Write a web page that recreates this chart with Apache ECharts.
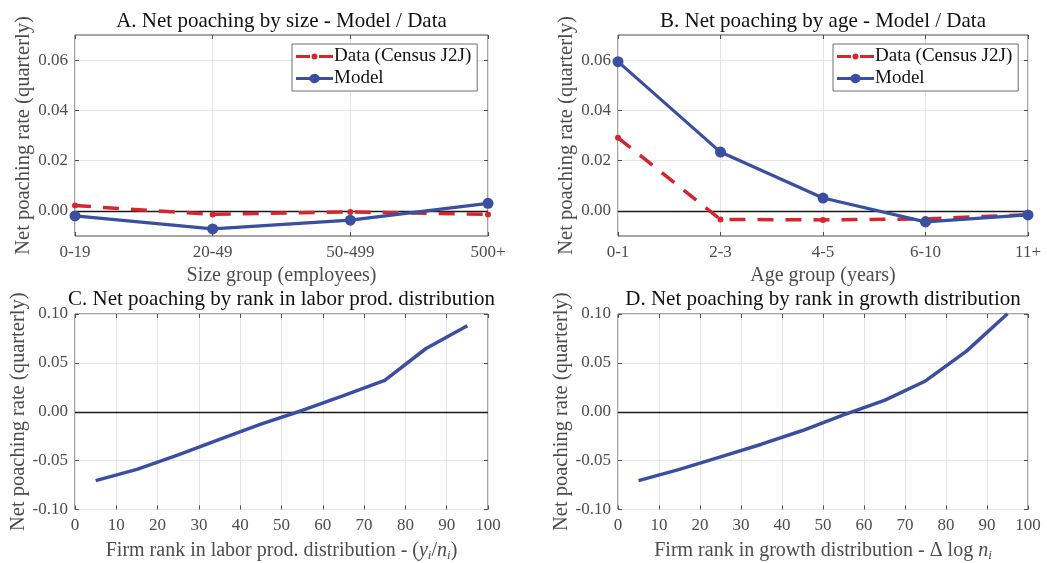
<!DOCTYPE html>
<html>
<head>
<meta charset="utf-8">
<script src="https://cdn.jsdelivr.net/npm/echarts@6/dist/echarts.min.js"></script>
<style>html,body{margin:0;padding:0;background:#fff;}#c{width:1047px;height:563px;}</style>
</head>
<body>
<div id="c"></div>
<script>
// ---- data ----
const sizeCats = ['0-19', '20-49', '50-499', '500+'];
const sizeJ2J = [0.0021, -0.0014, -0.0004, -0.0014];
const sizeModel = [-0.0020, -0.0072, -0.0037, 0.0030];

const ageCats = ['0-1', '2-3', '4-5', '6-10', '11+'];
const ageJ2J = [0.0291, -0.0034, -0.0036, -0.0032, -0.0015];
const ageModel = [0.0594, 0.0234, 0.0051, -0.0044, -0.0016];

const rankX = [5, 15, 25, 35, 45, 55, 65, 75, 85, 95];
const prodRank = [-0.0704, -0.0590, -0.0441, -0.0282, -0.0126, 0.0013, 0.0166, 0.0322, 0.0647, 0.0880];
const growthRank = [-0.0704, -0.0590, -0.0461, -0.0332, -0.0192, -0.0033, 0.0116, 0.0315, 0.0620, 0.1003];

const topYTicks = [0, 0.02, 0.04, 0.06];

const titles = [
  'A. Net poaching by size - Model / Data',
  'B. Net poaching by age - Model / Data',
  'C. Net poaching by rank in labor prod. distribution',
  'D. Net poaching by rank in growth distribution'
];
const yName = 'Net poaching rate (quarterly)';

// ---- styles ----
const FONT = '"Liberation Serif", "DejaVu Serif", serif';
const BLUE = '#3a4fa0';
const RED = '#d5262e';
const AX = '#4d4d4d';
const GRIDC = '#e4e4e4';

const grids = [
  {left: 75, top: 35, width: 413, height: 201},
  {left: 618, top: 35, width: 410, height: 201},
  {left: 75, top: 314, width: 413, height: 200},
  {left: 618, top: 314, width: 410, height: 200}
];

const rich = {
  it: {fontFamily: FONT, fontStyle: 'italic', fontSize: 20, color: AX},
  sub: {fontFamily: FONT, fontStyle: 'italic', fontSize: 13, color: AX, padding: [9, 0, 0, 0]}
};

function xAxisPair(gi, isCat, cats, name, gap) {
  const base = {
    gridIndex: gi,
    axisLine: {show: false, onZero: false},
    splitLine: {show: false},
    axisTick: {show: true, inside: true, length: 4, lineStyle: {color: AX}},
    axisLabel: {show: false}
  };
  let main, top;
  if (isCat) {
    main = Object.assign({}, base, {type: 'category', data: cats, boundaryGap: false});
    top = Object.assign({}, base, {type: 'category', data: cats, boundaryGap: false, position: 'top'});
  } else {
    main = Object.assign({}, base, {type: 'value', min: 0, max: 100, interval: 10});
    top = Object.assign({}, base, {type: 'value', min: 0, max: 100, interval: 10, position: 'top'});
  }
  main.position = 'bottom';
  main.splitLine = {show: true, lineStyle: {color: GRIDC, width: 1}};
  main.axisLabel = {show: true, margin: 8, color: AX, fontFamily: FONT, fontSize: 17};
  main.name = name;
  main.nameLocation = 'middle';
  main.nameGap = gap;
  main.nameTextStyle = {color: AX, fontFamily: FONT, fontSize: 20, rich: rich};
  return [main, top];
}

function yAxisPair(gi, isTop, gap) {
  const base = {
    gridIndex: gi,
    type: 'value',
    axisLine: {show: false, onZero: false},
    splitLine: {show: false},
    axisTick: {show: true, inside: true, length: 4, lineStyle: {color: AX}},
    axisLabel: {show: false}
  };
  let lim;
  if (isTop) {
    lim = {min: -0.01, max: 0.07};
    base.axisTick.customValues = topYTicks;
  } else {
    lim = {min: -0.1, max: 0.1, interval: 0.05};
  }
  const main = Object.assign({}, base, lim, {position: 'left'});
  main.axisTick = Object.assign({}, base.axisTick);
  main.splitLine = {show: true, lineStyle: {color: GRIDC, width: 1}};
  main.axisLabel = {show: true, margin: 7, color: AX, fontFamily: FONT, fontSize: 17,
    formatter: v => (Math.abs(v) < 1e-9 ? 0 : v).toFixed(2)};
  if (isTop) main.axisLabel.customValues = topYTicks;
  main.name = yName;
  main.nameLocation = 'middle';
  main.nameGap = gap;
  main.nameTextStyle = {color: AX, fontFamily: FONT, fontSize: 20.5};
  const right = Object.assign({}, base, lim, {position: 'right'});
  right.axisTick = Object.assign({}, base.axisTick);
  return [main, right];
}

const xAxes = [].concat(
  xAxisPair(0, true, sizeCats, 'Size group (employees)', 30),
  xAxisPair(1, true, ageCats, 'Age group (years)', 30),
  xAxisPair(2, false, null, 'Firm rank in labor prod. distribution - ({it|y}{sub|i}/{it|n}{sub|i})', 30.5),
  xAxisPair(3, false, null, 'Firm rank in growth distribution - \u0394 log {it|n}{sub|i}', 30.5)
);
const yAxes = [].concat(
  yAxisPair(0, true, 37),
  yAxisPair(1, true, 37),
  yAxisPair(2, false, 42),
  yAxisPair(3, false, 40)
);

function zeroLine() {
  return {silent: true, symbol: ['none', 'none'], z: 1, label: {show: false},
    lineStyle: {color: '#1a1a1a', width: 1.3, type: 'solid'}, data: [{yAxis: 0}]};
}

function dataSeries(gi, vals) {
  return {name: 'Data (Census J2J)', type: 'line', xAxisIndex: gi * 2, yAxisIndex: gi * 2,
    data: vals, symbol: 'circle', symbolSize: 6, z: 3,
    lineStyle: {color: RED, width: 3.5, type: [16, 12]}, itemStyle: {color: RED},
    markLine: zeroLine()};
}
function modelSeries(gi, vals) {
  return {name: 'Model', type: 'line', xAxisIndex: gi * 2, yAxisIndex: gi * 2,
    data: vals, symbol: 'circle', symbolSize: 11, z: 4,
    lineStyle: {color: BLUE, width: 3.2}, itemStyle: {color: BLUE}};
}
function rankSeries(gi, vals) {
  return {name: 'rank' + gi, type: 'line', xAxisIndex: gi * 2, yAxisIndex: gi * 2,
    data: rankX.map((x, i) => [x, vals[i]]), symbol: 'none', z: 3,
    lineStyle: {color: BLUE, width: 3.5}, itemStyle: {color: BLUE},
    markLine: zeroLine()};
}

const redIcon = 'path://M0 5H14V8H0Z M15.5 6.5a3 3 0 1 0 6 0a3 3 0 1 0 -6 0Z M23 5H37V8H23Z';
const blueIcon = 'path://M0 5H13.5a5.5 5.5 0 0 1 10 0H37V8H23.5a5.5 5.5 0 0 1 -10 0H0Z';

function legendAt(left) {
  return {
    left: left, top: 44, orient: 'vertical', itemWidth: 37, itemHeight: 13, itemGap: 3,
    padding: [3, 6, 3, 4], borderColor: '#6e6e6e', borderWidth: 1, backgroundColor: '#fff',
    textStyle: {fontFamily: FONT, fontSize: 19, color: '#111', padding: [0, 0, 0, -4]},
    itemStyle: {borderWidth: 0},
    selectedMode: false,
    data: [{name: 'Data (Census J2J)', icon: redIcon}, {name: 'Model', icon: blueIcon}]
  };
}

const titleCenters = [[281.5, 11], [823, 11], [281.5, 289], [823, 289]];
const option = {
  animation: false,
  backgroundColor: '#fff',
  title: titles.map((t, i) => ({
    text: t, left: titleCenters[i][0], top: titleCenters[i][1], textAlign: 'center', padding: 0,
    textStyle: {fontFamily: FONT, fontSize: 21, fontWeight: 'normal', color: '#111'}
  })),
  legend: [legendAt(292), legendAt(833)],
  grid: grids.map(g => Object.assign({}, g, {show: true, borderColor: AX, borderWidth: 1, backgroundColor: 'transparent', containLabel: false})),
  xAxis: xAxes,
  yAxis: yAxes,
  series: [
    dataSeries(0, sizeJ2J), modelSeries(0, sizeModel),
    dataSeries(1, ageJ2J), modelSeries(1, ageModel),
    rankSeries(2, prodRank), rankSeries(3, growthRank)
  ]
};
const chart = echarts.init(document.getElementById('c'), null, {renderer: 'canvas'});
chart.setOption(option);
</script>
</body>
</html>
